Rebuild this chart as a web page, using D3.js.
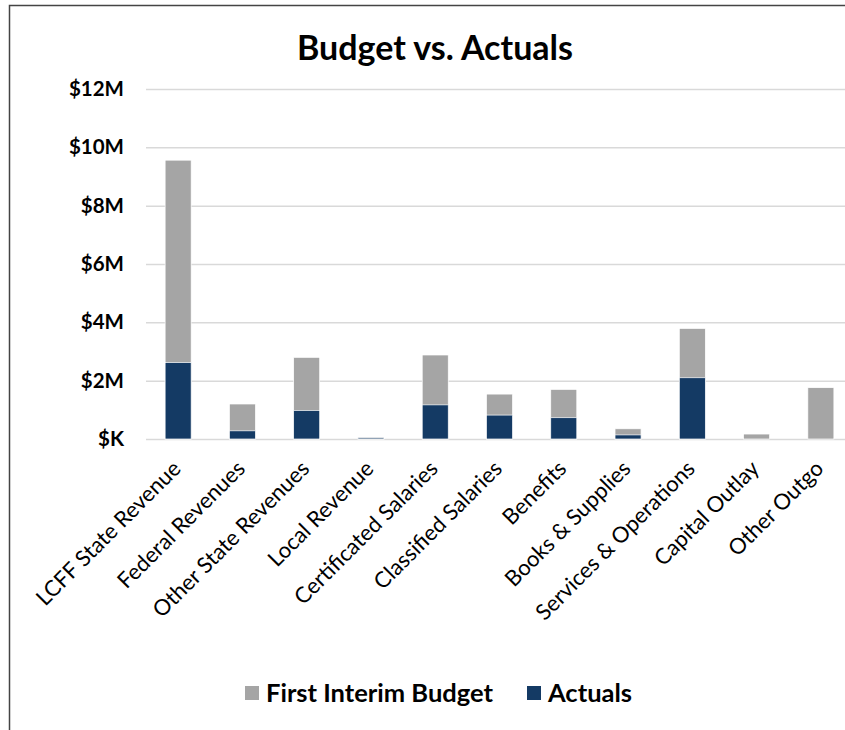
<!DOCTYPE html>
<html>
<head>
<meta charset="utf-8">
<script src="https://cdn.jsdelivr.net/npm/d3@7"></script>
<style>
  html, body { margin: 0; padding: 0; background: #fff; }
  svg { display: block; font-family: Lato, "Open Sans", sans-serif; }
</style>
</head>
<body>
<main></main>
<script>
const width = 845;
const height = 730;

const categories = [
  "LCFF State Revenue",
  "Federal Revenues",
  "Other State Revenues",
  "Local Revenue",
  "Certificated Salaries",
  "Classified Salaries",
  "Benefits",
  "Books & Supplies",
  "Services & Operations",
  "Capital Outlay",
  "Other Outgo",
];
// values in dollars
const budget = [9560000, 1200000, 2800000, 60000, 2880000, 1540000, 1700000, 350000, 3790000, 170000, 1760000];
const actuals = [2620000, 280000, 980000, 40000, 1170000, 820000, 730000, 140000, 2100000, 0, 0];
const yTicks = [0, 2000000, 4000000, 6000000, 8000000, 10000000, 12000000];

const colors = { budget: "#A5A5A5", actuals: "#143A64" };

const svg = d3
  .select("main")
  .append("svg")
  .attr("width", width)
  .attr("height", height);

// outer frame
svg
  .append("rect")
  .attr("x", 9.5)
  .attr("y", 5.5)
  .attr("width", 850)
  .attr("height", 760)
  .attr("fill", "none")
  .attr("stroke", "#444")
  .attr("stroke-width", 1.5);

svg
  .append("text")
  .attr("x", 435)
  .attr("y", 60)
  .attr("text-anchor", "middle")
  .attr("font-size", 34)
  .attr("font-weight", "bold")
  .text("Budget vs. Actuals");

const x = d3
  .scaleBand()
  .domain(categories)
  .range([146, 853])
  .paddingInner(0.595)
  .paddingOuter(0.2975);

const y = d3.scaleLinear().domain([0, 12000000]).range([439, 89]);

const fmt = (v) => (v === 0 ? "$K" : `$${v / 1000000}M`);

// gridlines + y labels
const yAxis = svg
  .append("g")
  .attr("transform", "translate(146,0)")
  .call(
    d3
      .axisLeft(y)
      .tickValues(yTicks)
      .tickSize(-(width - 146))
      .tickPadding(22)
      .tickFormat(fmt)
  );
yAxis.select(".domain").remove();
yAxis.selectAll("line").attr("stroke", "#d9d9d9").attr("stroke-width", 1.5);
yAxis
  .selectAll("text")
  .attr("font-size", 20.5)
  .attr("font-weight", "bold")
  .attr("fill", "#000")
  .attr("font-family", "Lato, sans-serif");

// bars: actuals drawn over budget
svg
  .append("g")
  .selectAll("rect")
  .data(categories)
  .join("rect")
  .attr("x", (d) => x(d))
  .attr("width", x.bandwidth())
  .attr("y", (d, i) => y(budget[i]))
  .attr("height", (d, i) => y(0) - y(budget[i]))
  .attr("fill", colors.budget)
  .attr("stroke", "#fff")
  .attr("stroke-width", 0.7);

svg
  .append("g")
  .selectAll("rect")
  .data(categories.filter((d, i) => actuals[i] > 0))
  .join("rect")
  .attr("x", (d) => x(d))
  .attr("width", x.bandwidth())
  .attr("y", (d) => y(actuals[categories.indexOf(d)]))
  .attr("height", (d) => y(0) - y(actuals[categories.indexOf(d)]))
  .attr("fill", colors.actuals)
  .attr("stroke", "#fff")
  .attr("stroke-width", 0.7);

// category labels
svg
  .append("g")
  .selectAll("text")
  .data(categories)
  .join("text")
  .attr("transform", (d) => `translate(${x(d) + x.bandwidth() / 2 + 4},470) rotate(-45)`)
  .attr("text-anchor", "end")
  .attr("font-size", 22)
  .text((d) => d);

// legend
const legendItems = [
  { label: "First Interim Budget", color: colors.budget, x: 245 },
  { label: "Actuals", color: colors.actuals, x: 527 },
];
const legend = svg.append("g");
legend
  .selectAll("rect")
  .data(legendItems)
  .join("rect")
  .attr("x", (d) => d.x)
  .attr("y", 686)
  .attr("width", 14)
  .attr("height", 14)
  .attr("fill", (d) => d.color);
legend
  .selectAll("text")
  .data(legendItems)
  .join("text")
  .attr("x", (d) => d.x + 21)
  .attr("y", 702)
  .attr("font-size", 25.5)
  .attr("font-weight", "bold")
  .text((d) => d.label);
</script>
</body>
</html>
